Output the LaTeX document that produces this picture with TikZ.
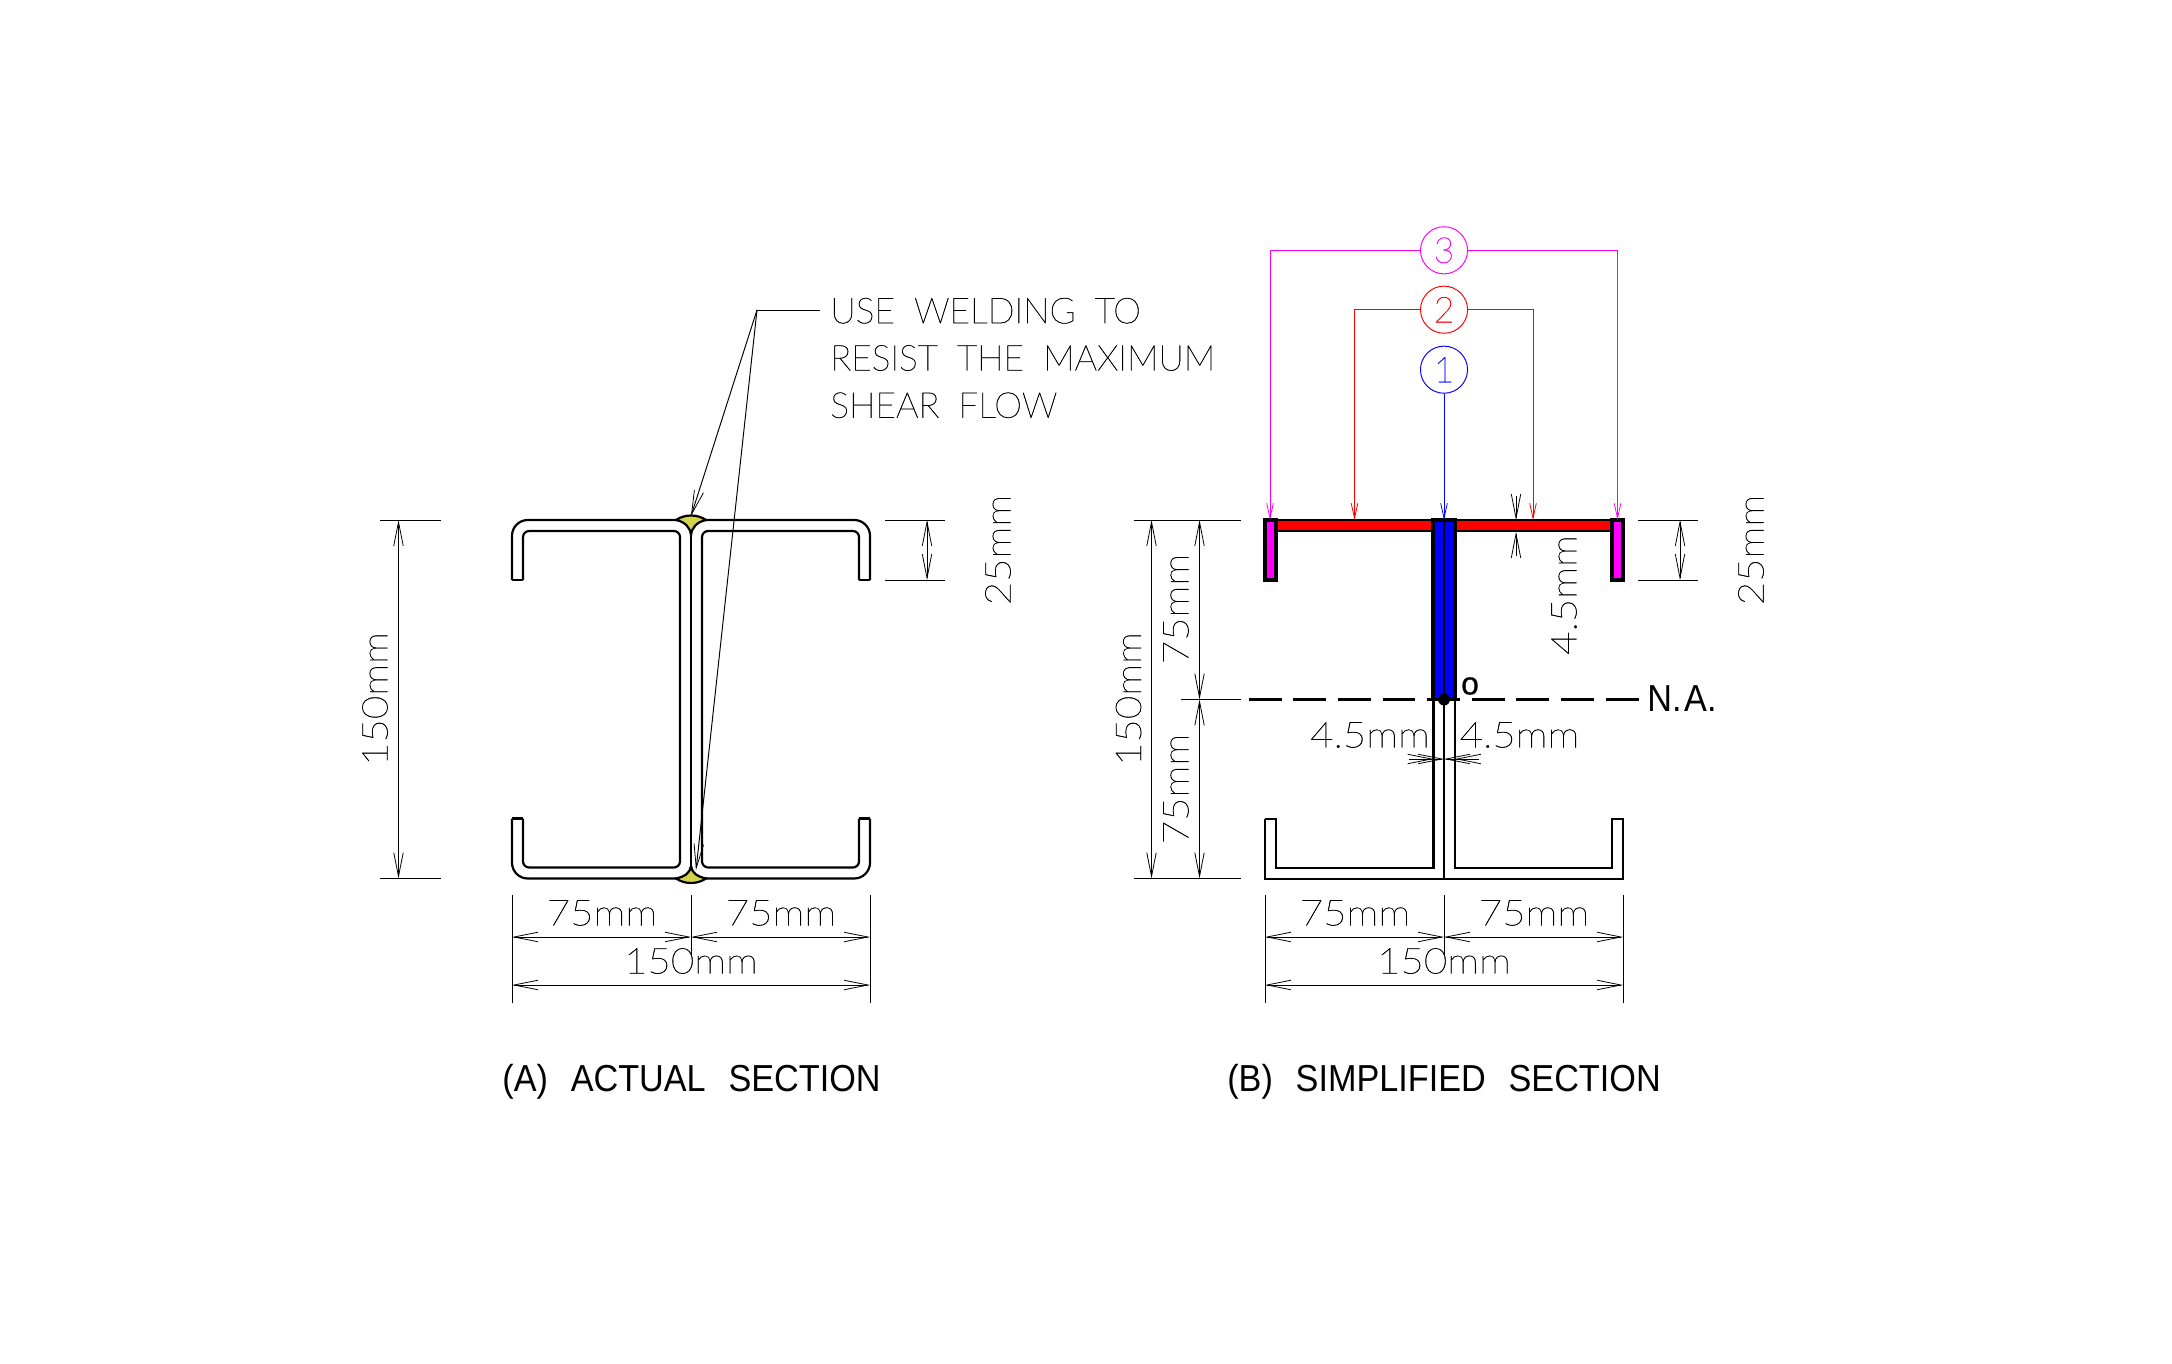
\documentclass[tikz,border=0pt]{standalone}
\usepackage{fontspec}
\usetikzlibrary{arrows.meta}
\newfontfamily\dimfont{Lato Thin}[FakeBold=1.1,FakeStretch=1.13]
\newfontfamily\notefont{Lato Thin}[FakeBold=1.1,FakeStretch=0.99,WordSpace=1.9]
\newfontfamily\capfont{Liberation Sans}[WordSpace=2.4,FakeStretch=0.91]
\newfontfamily\markfont{Liberation Sans}[FakeBold=1]
\definecolor{weldyellow}{HTML}{D4D44A}
\definecolor{partmagenta}{HTML}{FF00FF}
\tikzset{
    thinline/.style={line width=0.55pt},
    boldline/.style={line width=1.25pt},
    dimline/.style={thinline,{Straight Barb[length=13.6pt,width=5.4pt,line width=0.45pt]}-{Straight Barb[length=13.6pt,width=5.4pt,line width=0.45pt]}},
    tipline/.style={thinline,-{Straight Barb[length=13.6pt,width=5.4pt,line width=0.45pt]}},
    forceline/.style={thinline,-{Straight Barb[length=8.5pt,width=3.8pt,line width=0.45pt]}},
    dimtext/.style={font=\dimfont\fontsize{20.3}{20.3}\selectfont,inner sep=0},
    captext/.style={font=\capfont\fontsize{21.4}{21.4}\selectfont,inner sep=0},
    partbox/.style={draw=black,line width=1.9pt},
    flangebox/.style={draw=black,line width=1.2pt},
    partmark/.style={circle,draw=#1,text=#1,thinline,minimum size=26.8pt,inner sep=0,font=\notefont\fontsize{20.3}{20.3}\selectfont},
    weld/.style={fill=weldyellow,draw=black,boldline}
}
\begin{document}
\begin{tikzpicture}[x=0.02cm,y=-0.02cm]
\fill[white] (0,0) rectangle (2172,1364);

\draw[boldline,rounded corners=9pt] (512,580) -- (512,520) -- (870,520) -- (870,580);
\draw[boldline,rounded corners=9pt] (512,818.5) -- (512,878.5) -- (870,878.5) -- (870,818.5);
\draw[boldline] (512,580) -- (523,580) (859,580) -- (870,580);
\draw[boldline] (512,818.5) -- (523,818.5) (859,818.5) -- (870,818.5);
\draw[boldline,rounded corners=3.5pt] (523,580) -- (523,531) -- (680,531) -- (680,867.5) -- (523,867.5) -- (523,818.5);
\draw[boldline,rounded corners=3.5pt] (859,580) -- (859,531) -- (702,531) -- (702,867.5) -- (859,867.5) -- (859,818.5);
\draw[boldline] (691,530) -- (691,870);
\draw[weld] (676,520) .. controls (685,514) and (697,514) .. (706,520) .. controls (697,522) and (692,527) .. (691,535) .. controls (690,527) and (685,522) .. (676,520) -- cycle;
\draw[weld] (676,878.5) .. controls (685,884.5) and (697,884.5) .. (706,878.5) .. controls (697,876.5) and (692,873) .. (691,866) .. controls (690,873) and (685,876.5) .. (676,878.5) -- cycle;

\draw[boldline] (1265,819) -- (1265,879) -- (1623,879) -- (1623,819) -- (1612,819) -- (1612,868) -- (1455,868) -- (1455,699);
\draw[boldline] (1265,819) -- (1276,819) -- (1276,868) -- (1433.5,868) -- (1433.5,699);
\draw[boldline] (1444,699) -- (1444,879);
\draw[flangebox,fill=red] (1276,520) rectangle (1433,531);
\draw[flangebox,fill=red] (1455,520) rectangle (1612,531);
\draw[partbox,fill=partmagenta] (1265,520) rectangle (1276,580);
\draw[partbox,fill=partmagenta] (1612,520) rectangle (1623,580);
\draw[partbox,fill=blue] (1433,520) rectangle (1455,699.5);
\draw[line width=1.2pt] (1444,520) -- (1444,699.5);
\draw[line width=1.55pt,dash pattern=on 18.7pt off 6.7pt] (1248.7,699.5) -- (1639,699.5);
\fill (1444,699.5) circle (6);
\node[font=\markfont\fontsize{18}{18}\selectfont,inner sep=0] (centroid) at (1470,686) {o};
\node[captext,anchor=west] (axis) at (1647,699) {N.\kern1.5pt A.};

\foreach \c/\n in {0/a,753/b} {
    \draw[thinline] (512+\c,895) -- (512+\c,1003);
    \draw[thinline] (691+\c,895) -- (691+\c,955);
    \draw[thinline] (870+\c,895) -- (870+\c,1003);
    \draw[dimline] (512+\c,937) -- (691+\c,937);
    \draw[dimline] (691+\c,937) -- (870+\c,937);
    \draw[dimline] (512+\c,985) -- (870+\c,985);
    \node[dimtext] (left\n) at (602+\c,913) {75mm};
    \node[dimtext] (right\n) at (781+\c,913) {75mm};
    \node[dimtext] (width\n) at (691+\c,961) {150mm};
    \draw[thinline] (885+\c,520) -- (945+\c,520);
    \draw[thinline] (885+\c,580) -- (945+\c,580);
    \draw[dimline] (927+\c,520) -- (927+\c,580);
    \node[dimtext,rotate=90] (lip\n) at (998+\c,550) {25mm};
}

\draw[thinline] (380,520) -- (441,520);
\draw[thinline] (380,878.5) -- (441,878.5);
\draw[dimline] (398.5,520) -- (398.5,878.5);
\node[dimtext,rotate=90] (deptha) at (375,699) {150mm};

\draw[thinline] (1133.5,520) -- (1241,520);
\draw[thinline] (1133.5,878.5) -- (1241,878.5);
\draw[thinline] (1181,699.5) -- (1241,699.5);
\draw[dimline] (1151.5,520) -- (1151.5,878.5);
\draw[dimline] (1199.5,520) -- (1199.5,699.5);
\draw[dimline] (1199.5,699.5) -- (1199.5,878.5);
\node[dimtext,rotate=90] (depthb) at (1128.5,699) {150mm};
\node[dimtext,rotate=90] (uppera) at (1176,609) {75mm};
\node[dimtext,rotate=90] (lowera) at (1176,789) {75mm};

\draw[tipline] (1516,496) -- (1516,520);
\draw[tipline] (1516,556) -- (1516,532);
\node[dimtext,rotate=90] (flange) at (1564,595) {4.5mm};

\draw[tipline] (1409,759) -- (1433.5,759);
\draw[tipline] (1420,759) -- (1444,759);
\draw[tipline] (1468,759) -- (1444,759);
\draw[tipline] (1479,759) -- (1455,759);
\node[dimtext] (webl) at (1370,735) {4.5mm};
\node[dimtext] (webr) at (1519.5,735) {4.5mm};

\node[partmark=partmagenta] (three) at (1444,250.3) {3};
\node[partmark=red] (two) at (1444,309.7) {2};
\node[partmark=blue] (one) at (1444,369.7) {1};
\coordinate (threel) at (1270,520);
\coordinate (threer) at (1617.5,520);
\coordinate (twol) at (1354.5,520);
\coordinate (twor) at (1533,520);
\coordinate (oneb) at (1444,520);
\draw[forceline,partmagenta] (three.west) -| (threel);
\draw[forceline,partmagenta] (three.east) -| (threer);
\draw[forceline,red] (two.west) -| (twol);
\draw[forceline,red] (two.east) -| (twor);
\draw[forceline,blue] (one.south) -- (oneb);

\node[anchor=west,align=left,inner sep=0,font=\notefont\fontsize{20.3}{26.9}\selectfont] (note) at (830,358) {USE WELDING TO\\RESIST THE MAXIMUM\\SHEAR FLOW};
\coordinate (leader) at (757,310);
\coordinate (weldtop) at (691,516);
\coordinate (weldbot) at (696,870);
\draw[thinline] (820,310) -- (leader);
\draw[tipline] (leader) -- (weldtop);
\draw[tipline] (leader) -- (weldbot);

\node[captext] (titlea) at (691.5,1082) {(A) ACTUAL SECTION};
\node[captext] (titleb) at (1444,1082) {(B) SIMPLIFIED SECTION};
\end{tikzpicture}
\end{document}
